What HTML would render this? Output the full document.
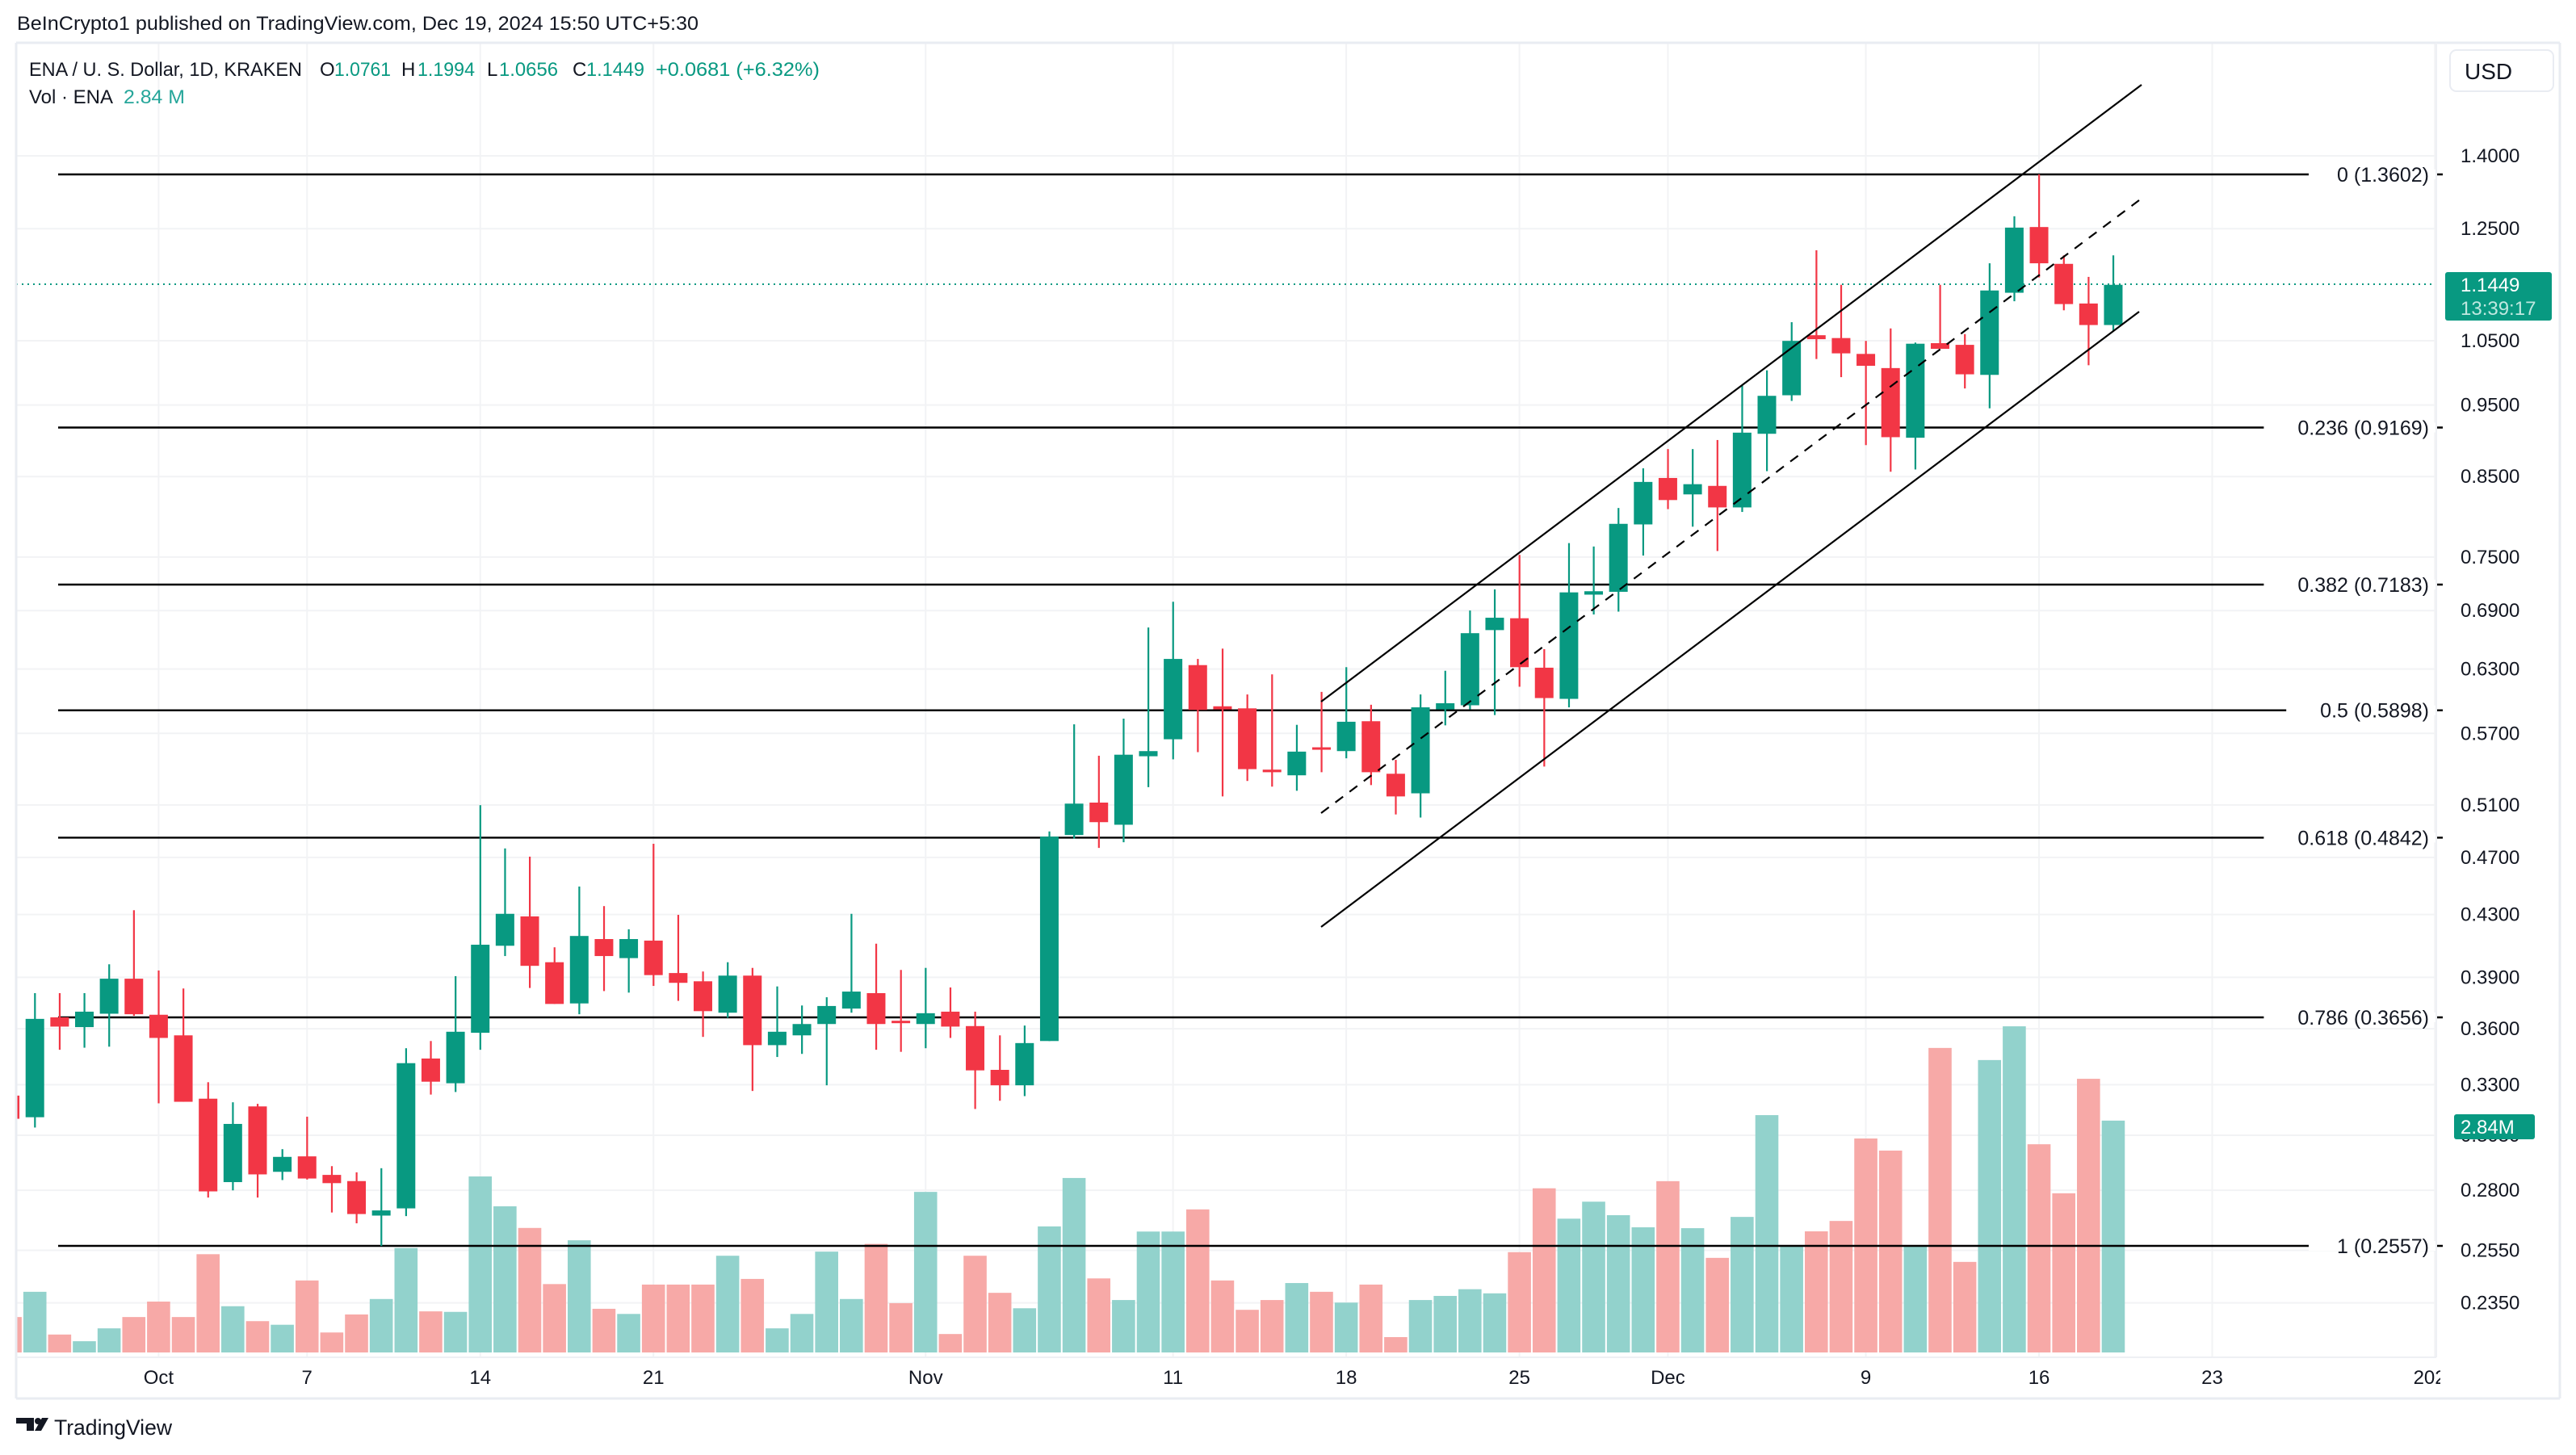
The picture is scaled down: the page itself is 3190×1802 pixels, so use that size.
<!DOCTYPE html>
<html><head><meta charset="utf-8"><style>
html,body{margin:0;padding:0;background:#fff;}
svg{display:block;font-family:"Liberation Sans",Arial,sans-serif;}
</style></head><body>
<svg id="s" xmlns="http://www.w3.org/2000/svg" width="3190" height="1802" viewBox="0 0 3190 1802">
<defs><clipPath id="pc"><rect x="20" y="53" width="2997" height="1628"/></clipPath>
<clipPath id="tc"><rect x="20" y="1681" width="3002" height="60"/></clipPath></defs>
<rect width="3190" height="1802" fill="#fff"/>
<g id="grid"></g>
<g id="vol" clip-path="url(#pc)"></g>
<g id="fib"></g>
<line x1="20" y1="352" x2="3017" y2="352" stroke="#089981" stroke-width="2" stroke-dasharray="2 5"/>
<g id="cdl" clip-path="url(#pc)"></g>
<g stroke="#000" stroke-width="2.2" fill="none">
<line x1="1636" y1="869" x2="2652" y2="105"/>
<line x1="1636" y1="1148" x2="2649" y2="386"/>
<line x1="1636" y1="1007" x2="2649" y2="248" stroke-dasharray="12 10"/>
</g>
<g id="lbl"></g>
<line x1="20" y1="53" x2="3170" y2="53" stroke="#e9ecf2" stroke-width="3"/>
<line x1="20" y1="53" x2="20" y2="1732" stroke="#e9ecf2" stroke-width="3"/>
<line x1="20" y1="1732" x2="3170" y2="1732" stroke="#e9ecf2" stroke-width="3"/>
<line x1="3170" y1="53" x2="3170" y2="1732" stroke="#e9ecf2" stroke-width="3"/>
<line x1="3017" y1="53" x2="3017" y2="1681" stroke="#eef0f4" stroke-width="2"/>
<line x1="20" y1="1681" x2="3017" y2="1681" stroke="#eef0f4" stroke-width="2"/>
<rect x="3034" y="62" width="128" height="51" rx="8" fill="#fff" stroke="#e9ecf2" stroke-width="2"/>
<text x="3052" y="98" font-size="28" fill="#131722">USD</text>
<g id="pax" font-size="24" fill="#131722"></g>
<rect x="3028" y="337" width="132" height="60" rx="3" fill="#089981"/>
<text x="3047" y="361" font-size="24" fill="#fff">1.1449</text>
<text x="3047" y="390" font-size="24" fill="#bfe8e0">13:39:17</text>
<rect x="3039" y="1380" width="100" height="31" rx="3" fill="#089981"/>
<text x="3047" y="1404" font-size="24" fill="#fff">2.84M</text>
<text x="21" y="37" font-size="24" fill="#131722" textLength="844" lengthAdjust="spacingAndGlyphs">BeInCrypto1 published on TradingView.com, Dec 19, 2024 15:50 UTC+5:30</text>
<g font-size="24" fill="#131722">
<text x="36" y="94" textLength="338" lengthAdjust="spacingAndGlyphs">ENA / U. S. Dollar, 1D, KRAKEN</text>
<text x="396" y="94">O</text><text x="414" y="94" fill="#089981" textLength="70" lengthAdjust="spacingAndGlyphs">1.0761</text>
<text x="497" y="94">H</text><text x="517" y="94" fill="#089981" textLength="71" lengthAdjust="spacingAndGlyphs">1.1994</text>
<text x="603" y="94">L</text><text x="618" y="94" fill="#089981" textLength="73" lengthAdjust="spacingAndGlyphs">1.0656</text>
<text x="709" y="94">C</text><text x="726" y="94" fill="#089981" textLength="72" lengthAdjust="spacingAndGlyphs">1.1449</text>
<text x="812" y="94" fill="#089981" textLength="203" lengthAdjust="spacingAndGlyphs">+0.0681 (+6.32%)</text>
<text x="36" y="128" textLength="104" lengthAdjust="spacingAndGlyphs">Vol · ENA</text>
<text x="153" y="128" fill="#26a69a" textLength="76" lengthAdjust="spacingAndGlyphs">2.84 M</text>
</g>
<g id="tax" font-size="24" fill="#131722" clip-path="url(#tc)"></g>
<g fill="#131722">
<path d="M20 1756h22v16h-9v-9h-13z"/><circle cx="47" cy="1760" r="4"/><path d="M52 1756h8l-9 16h-8z"/>
</g>
<text x="67" y="1777" font-size="27" fill="#131722" textLength="146" lengthAdjust="spacingAndGlyphs">TradingView</text>
</svg>
<script>
var NS="http://www.w3.org/2000/svg";
function el(p,t,a,txt){var e=document.createElementNS(NS,t);for(var k in a)e.setAttribute(k,a[k]);if(txt!=null)e.textContent=txt;document.getElementById(p).appendChild(e);return e;}
var G="#089981",R="#f23645";
function X(d){return 196.4+30.64*d;}
function py(p){return 193+796*(Math.log(1.4)-Math.log(p));}
var pl=["1.4000","1.2500","1.0500","0.9500","0.8500","0.7500","0.6900","0.6300","0.5700","0.5100","0.4700","0.4300","0.3900","0.3600","0.3300","0.3050","0.2800","0.2550","0.2350"];
pl.forEach(function(s){var y=py(parseFloat(s));el("grid","line",{x1:20,x2:3017,y1:y,y2:y,stroke:"#f2f3f5","stroke-width":2});el("pax","text",{x:3047,y:y+8},s);});
var dl=[[0,"Oct"],[6,"7"],[13,"14"],[20,"21"],[31,"Nov"],[41,"11"],[48,"18"],[55,"25"],[61,"Dec"],[69,"9"],[76,"16"],[83,"23"],[92,"2025"]];
dl.forEach(function(a){var x=X(a[0]);el("grid","line",{x1:x,x2:x,y1:53,y2:1681,stroke:"#f2f3f5","stroke-width":2});el("tax","text",{x:x,y:1714,"text-anchor":"middle"},a[1]);});
function z45(z){return 700+z/1.568;}
function z7(z){return 1150+z/2.8;}
var V=[[-6,0,z45(1460)],[-5,1,z45(1411)],[-4,0,z45(1494)],[-3,1,z45(1507)],[-2,1,z45(1482)],[-1,0,z45(1460)],[0,0,z45(1430)],[1,0,z45(1460)],[2,0,z45(1338)],[3,1,z45(1439)],[4,0,z45(1468)],[5,1,z45(1475)],[6,0,z45(1389)],[7,0,z45(1490)],[8,0,z45(1455)],[9,1,z45(1425)],[10,1,z45(1326)],[11,0,z45(1449)],[12,1,z45(1450)],[13,1,z45(1187)],[14,1,z45(1245)],[15,0,z45(1287)],[16,0,z45(1396)],[17,1,z45(1311)],[18,0,z45(1444)],[19,1,z45(1454)],[20,0,z45(1397)],[21,0,z45(1397)],[22,0,z45(1397)],[23,1,z45(1341)],[24,0,z45(1386)],[25,1,z45(1482)],[26,1,z45(1454)],
[27,1,z45(1333)],[28,1,z45(1425)],[29,0,z45(1318)],[30,0,z45(1433)],[31,1,z45(1217)],[32,0,z45(1493)],[33,0,z45(1341)],[34,0,z45(1413)],[35,1,z45(1443)],[36,1,z45(1284)],[37,1,z45(1190)],[38,0,z45(1385)],[39,1,z45(1427)],[40,1,z45(1294)],[41,1,z45(1294)],[42,0,z45(1251)],[43,0,z45(1389)],[44,0,z45(1446)],[45,0,z45(1427)],[46,1,z45(1394)],[47,0,z45(1411)],[48,1,z45(1432)],[49,0,z45(1397)],[50,0,z45(1499)],[51,1,z45(1427)],[52,1,z45(1419)],[53,1,z45(1406)],[54,1,z45(1414)],[55,0,z45(1334)],[56,0,z45(1210)],[57,1,z45(1269)],[58,1,z45(1236)],
[59,1,z7(994)],[60,1,z7(1036)],[61,0,z7(876)],[62,1,z7(1039)],[63,0,z7(1142)],[64,1,z7(1000)],[65,1,z7(647)],[66,1,z7(1098)],[67,0,z7(1050)],[68,0,z7(1014)],[69,0,z7(728)],[70,0,z7(770)],[71,1,z7(1098)],[72,0,z7(414)],[73,0,z7(1156)],[74,1,z7(456)],[75,1,z7(339)],[76,0,z7(748)],[77,0,z7(918)],[78,0,z7(521)],[79,1,z7(666)]];
V.forEach(function(v){var x=X(v[0]);el("vol","rect",{x:x-14.3,y:v[2],width:28.6,height:1675-v[2],fill:v[1]?"#92d2cc":"#f7a9a7"});});
var F=[[216,"0 (1.3602)"],[529.5,"0.236 (0.9169)"],[724,"0.382 (0.7183)"],[879.7,"0.5 (0.5898)"],[1037.4,"0.618 (0.4842)"],[1260,"0.786 (0.3656)"],[1543,"1 (0.2557)"]];
F.forEach(function(f){el("fib","line",{x1:72,x2:3025,y1:f[0],y2:f[0],stroke:"#000","stroke-width":2.4});
el("lbl","text",{x:3008,y:f[0]+9,"text-anchor":"end","font-size":25,fill:"#131722"},f[1]);
var w=f[1].length*13.9+20;el("fib","rect",{x:3008-w+10,y:f[0]-6,width:w,height:12,fill:"#fff"});});
var C4=[[-6,0,1030,1075,1030,1075],[-5,1,881,1072,831,1092],[-4,0,878,896,831,941],[-3,1,867,897,831,937],[-2,1,803,871,775,935],[-1,0,803,872,670,875],[0,0,873,918,787,1045],[1,0,913,1042,822,1042],[2,0,1036,1216,1004,1228],[3,1,1085,1198,1043,1214],[4,0,1051,1183,1046,1228],[5,1,1149,1178,1134,1194],[6,0,1148,1191,1071,1193],[7,0,1184,1200,1167,1257],[8,0,1196,1260,1179,1278],[9,1,1253,1263,1171,1322],[10,1,967,1249,938,1264],[11,0,958,1003,924,1028],[12,1,906,1006,798,1023],[13,1,737,908,466,941],[14,1,677,739,550,759],[15,0,682,778,566,821],[16,0,771,852,742,852],[17,1,720,851,624,872],[18,0,726,759,662,827],[19,1,726,763,707,830],[20,0,729,796,541,817],[21,0,792,811,679,846],[22,0,808,866,789,916],[23,1,797,869,771,879],[24,0,797,932,782,1021],[25,1,906,932,818,955],[26,1,891,913,855,949],
[27,1,856,891,839,1010],[28,1,828,861,677,869],[29,0,831,891,735,941],[30,0,885,889,786,945],[31,1,870,891,782,938],[32,0,867,896,820,918],[33,0,895,981,867,1056],[34,0,980,1010,913,1040],[35,1,928,1010,894,1031],[36,1,527,924,517,924],[37,1,463,524,309,531],[38,0,461,499,370,549],[39,1,368,504,298,538],[40,1,361,371,121,431],[41,1,182,338,71,377],[42,0,194,281,182,363],[43,0,274,280,162,449],[44,0,278,396,251,419],[45,0,397,402,212,430],[46,1,362,408,310,438],[47,0,354,358,246,402],[48,1,304,361,198,375],[49,0,303,402,271,427],[50,0,405,449,378,484],[51,1,276,443,251,490],[52,1,268,280,205,311],[53,1,132,272,88,280],[54,1,102,126,47,291],[55,0,103,198,-20,236],[56,0,199,258,163,391]];
var C6=[[57,1,832,1020,745,1035],[58,1,830,836,751,871],[59,1,711,831,683,866],[60,1,637,712,613,767],[61,0,630,669,579,685],[62,1,641,659,579,716],[63,0,644,682,563,759],[64,1,550,682,467,690],[65,1,485,552,440,618],[66,1,388,484,355,494],[67,0,378,385,228,420],[68,0,383,410,289,452],[69,0,411,432,388,572],[70,0,436,558,366,619],[71,1,393,559,391,615],[72,0,392,402,289,402],[73,0,395,447,376,472],[74,1,299,448,251,507],[75,1,188,303,168,318],[76,0,187,251,94,276],[77,0,252,323,237,334],[78,0,322,360,275,431],[79,1,289,360,237,371]];
function drawC(c,f){var x=X(c[0]),col=c[1]?G:R;var bt=f(c[2]),bb=f(c[3]);if(bb-bt<3){var m=(bt+bb)/2;bt=m-1.5;bb=m+1.5;}
el("cdl","rect",{x:x-1,y:f(c[4]),width:2.2,height:f(c[5])-f(c[4]),fill:col});
el("cdl","rect",{x:x-11.5,y:bt,width:23,height:bb-bt,fill:col});}
C4.forEach(function(c){drawC(c,z45);});
C6.forEach(function(c){drawC(c,function(z){return 150+z/1.4255;});});
</script>
</body></html>
